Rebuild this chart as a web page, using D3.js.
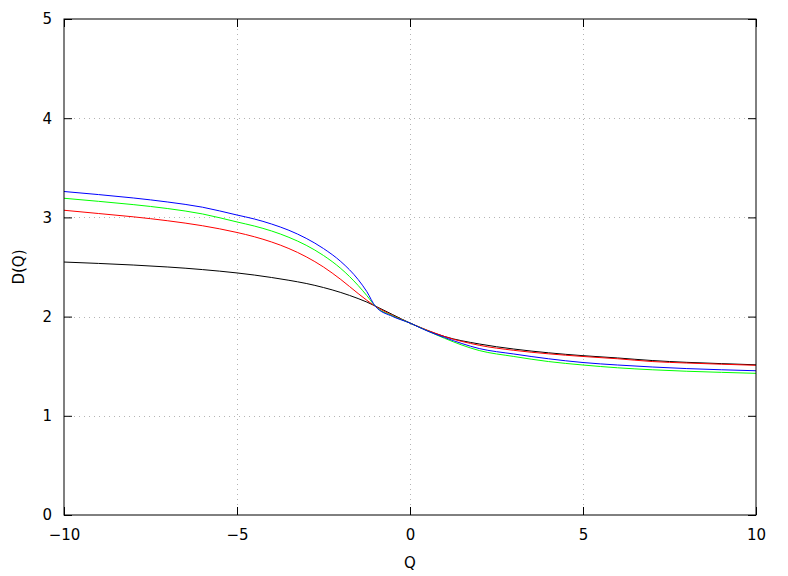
<!DOCTYPE html>
<html><head><meta charset="utf-8">
<script src="https://cdn.jsdelivr.net/npm/d3@7"></script>
<style>body{margin:0;background:#fff}svg{display:block}text{font-family:"DejaVu Sans",sans-serif;font-size:15px;fill:#000}</style>
</head><body>
<script>
const qValues = [-10,-9,-8,-7,-6,-5,-4.5,-4,-3.5,-3,-2.5,-2,-1.5,-1.25,-1,-0.5,0,0.5,1,2,3,4,5,6,7,8,9,10];
const blackD = [2.550,2.536,2.520,2.500,2.474,2.440,2.419,2.394,2.366,2.334,2.293,2.243,2.182,2.147,2.106,2.020,1.935,1.860,1.799,1.724,1.673,1.635,1.606,1.583,1.557,1.539,1.526,1.514];
const redD   = [3.072,3.039,3.006,2.966,2.916,2.848,2.805,2.752,2.686,2.603,2.500,2.374,2.233,2.165,2.104,2.012,1.935,1.863,1.799,1.711,1.660,1.625,1.598,1.575,1.547,1.532,1.520,1.509];
const greenD = [3.193,3.162,3.129,3.089,3.035,2.954,2.913,2.863,2.799,2.719,2.616,2.485,2.314,2.213,2.104,2.006,1.935,1.857,1.781,1.658,1.598,1.547,1.512,1.484,1.464,1.449,1.438,1.428];
const blueD  = [3.261,3.230,3.196,3.155,3.103,3.024,2.984,2.933,2.870,2.789,2.686,2.555,2.374,2.253,2.103,2.001,1.935,1.855,1.789,1.678,1.623,1.575,1.537,1.512,1.492,1.476,1.464,1.454];
const xTicks = [-10,-5,0,5,10];
const yTicks = [0,1,2,3,4,5];
const seriesList = [
  {name:"black", values:blackD, color:"#000000"},
  {name:"red", values:redD, color:"#ff0000"},
  {name:"green", values:greenD, color:"#00ff00"},
  {name:"blue", values:blueD, color:"#0000ff"}
];

const W=788,H=576, L=64,R=756,T=19,B=515;
const svg=d3.select("body").append("svg").attr("width",W).attr("height",H);
const x=d3.scaleLinear().domain([-10,10]).range([L,R]);
const y=d3.scaleLinear().domain([0,5]).range([B,T]);

// grid
const g=svg.append("g");
g.selectAll("line.gx").data(xTicks.slice(1,-1)).join("line")
 .attr("x1",d=>x(d)+0.5).attr("x2",d=>x(d)+0.5).attr("y1",T).attr("y2",B)
 .attr("stroke","#b4b4b4").attr("stroke-width",1).attr("stroke-dasharray","1,4");
g.selectAll("line.gy").data(yTicks.slice(1,-1)).join("line")
 .attr("y1",d=>Math.round(y(d))+0.5).attr("y2",d=>Math.round(y(d))+0.5).attr("x1",L).attr("x2",R)
 .attr("stroke","#b4b4b4").attr("stroke-width",1).attr("stroke-dasharray","1,4");

// axes with inward ticks
const ax=svg.append("g").attr("transform",`translate(0,${B})`)
 .call(d3.axisBottom(x).tickValues(xTicks).tickSize(-8).tickPadding(14).tickFormat(d3.format("d")));
const axTop=svg.append("g").attr("transform",`translate(0,${T})`)
 .call(d3.axisTop(x).tickValues(xTicks).tickSize(-8).tickFormat(""));
const ay=svg.append("g").attr("transform",`translate(${L},0)`)
 .call(d3.axisLeft(y).tickValues(yTicks).tickSize(-8).tickPadding(12).tickFormat(d3.format("d")));
const ayR=svg.append("g").attr("transform",`translate(${R},0)`)
 .call(d3.axisRight(y).tickValues(yTicks).tickSize(-8).tickFormat(""));
[ax,axTop,ay,ayR].forEach(a=>{a.select(".domain").remove();a.selectAll("line").attr("stroke","#000");a.selectAll("text").attr("font-size",15).attr("font-family","DejaVu Sans, sans-serif");});
ax.selectAll("text").attr("dy","0.71em");

// curves
const line=d3.line().x((d,i)=>x(qValues[i])).y(d=>y(d)).curve(d3.curveMonotoneX);
svg.append("g").selectAll("path").data(seriesList).join("path")
 .attr("d",s=>line(s.values)).attr("fill","none").attr("stroke",s=>s.color).attr("stroke-width",1);

// border
svg.append("rect").attr("x",L).attr("y",T).attr("width",R-L).attr("height",B-T)
 .attr("fill","none").attr("stroke","#000").attr("stroke-width",1);

svg.append("text").attr("x",(L+R)/2).attr("y",568).attr("text-anchor","middle").text("Q");
svg.append("text").attr("transform",`translate(24,${(T+B)/2}) rotate(-90)`).attr("text-anchor","middle").text("D(Q)");
</script>
</body></html>
